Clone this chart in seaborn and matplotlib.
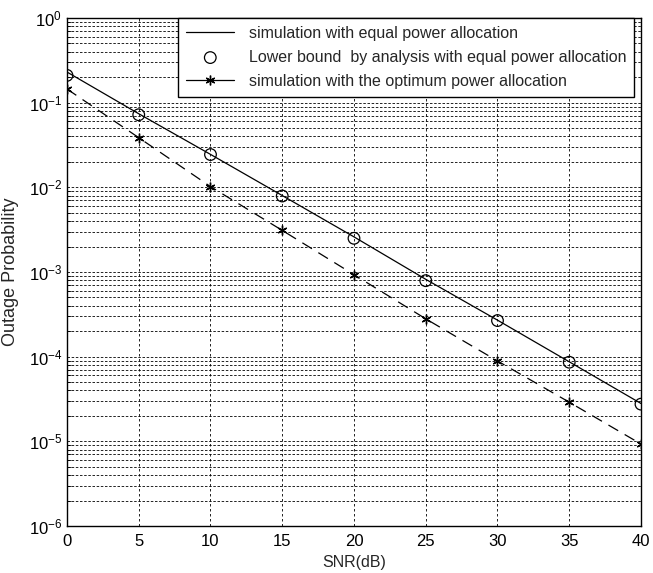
import numpy as np
import pandas as pd
import matplotlib
matplotlib.use("Agg")
import matplotlib.pyplot as plt
import seaborn as sns
from matplotlib.ticker import LogLocator, NullFormatter

snr_db = [0, 5, 10, 15, 20, 25, 30, 35, 40]
sim_equal = [0.23, 0.074, 0.0245, 0.0080, 0.0026, 0.00082, 0.00027, 8.7e-5, 2.8e-5]
bound_equal = [0.21, 0.072, 0.0244, 0.0079, 0.0025, 0.00079, 0.000267, 8.6e-5, 2.75e-5]
sim_optimum = [0.145, 0.0386, 0.0102, 0.0031, 0.00093, 0.00028, 8.9e-5, 2.9e-5, 9.3e-6]

labels = ["simulation with equal power allocation",
          "Lower bound  by analysis with equal power allocation",
          "simulation with the optimum power allocation"]
x_ticks = [0, 5, 10, 15, 20, 25, 30, 35, 40]

sns.set_style("white")
plt.rcParams['font.family'] = ['Liberation Sans', 'DejaVu Sans']
plt.rcParams['mathtext.fontset'] = 'custom'
plt.rcParams['mathtext.rm'] = 'Liberation Sans'
plt.rcParams['mathtext.it'] = 'Liberation Sans'

df = pd.DataFrame({"snr": snr_db, "sim": sim_equal, "bound": bound_equal, "opt": sim_optimum})

fig = plt.figure(figsize=(6.53, 5.73), dpi=100)
ax = fig.add_axes([0.1026, 0.082, 0.8790, 0.8866])

sns.lineplot(data=df, x="snr", y="sim", ax=ax, color="black", lw=0.9, label=labels[0])
sns.scatterplot(data=df, x="snr", y="bound", ax=ax, marker="o", s=70,
                facecolors="none", edgecolors="black", linewidths=0.9, label=labels[1], zorder=3)
sns.lineplot(data=df, x="snr", y="opt", ax=ax, color="black", lw=0.9,
             linestyle=(0, (9, 6)), marker=(6, 2, 0), markersize=7, markeredgewidth=1.0,
             markeredgecolor="black", label=labels[2])

ax.set_yscale("log")
ax.set_xlim(0, 40)
ax.set_ylim(1e-6, 1)
ax.set_xticks(x_ticks)
ax.set_xticklabels([str(v) for v in x_ticks])
ax.yaxis.set_major_locator(LogLocator(base=10, numticks=10))
ax.yaxis.set_minor_locator(LogLocator(base=10, subs=np.arange(2, 10), numticks=100))
ax.yaxis.set_minor_formatter(NullFormatter())

ax.grid(which="major", axis="x", color="black", lw=0.6, linestyle=(0, (3, 3)))
ax.grid(which="both", axis="y", color="black", lw=0.6, linestyle=(0, (3, 2)))

for s in ax.spines.values():
    s.set_color("black")
    s.set_linewidth(1.0)
ax.tick_params(axis="both", which="both", direction="in", labelsize=12, colors="black")
ax.tick_params(axis="both", which="major", length=5)
ax.tick_params(axis="y", which="minor", length=3, left=True)
ax.tick_params(axis="x", pad=6)

ax.set_xlabel("SNR(dB)", fontsize=11.5, labelpad=4)
ax.set_ylabel("Outage Probability", fontsize=13)
ax.yaxis.set_label_coords(-0.083, 0.5)

leg = ax.legend(loc="upper right", bbox_to_anchor=(0.988, 1.0), fontsize=11.5,
                frameon=True, fancybox=False, edgecolor="black", framealpha=1,
                handlelength=3.0, handletextpad=0.9, borderaxespad=0.0,
                labelspacing=0.55, borderpad=0.5)
leg.get_frame().set_linewidth(1.0)
for h in leg.legend_handles:
    if hasattr(h, "set_linestyle") and hasattr(h, "get_marker"):
        h.set_linestyle("-")

fig.savefig("out.png", dpi=100)
